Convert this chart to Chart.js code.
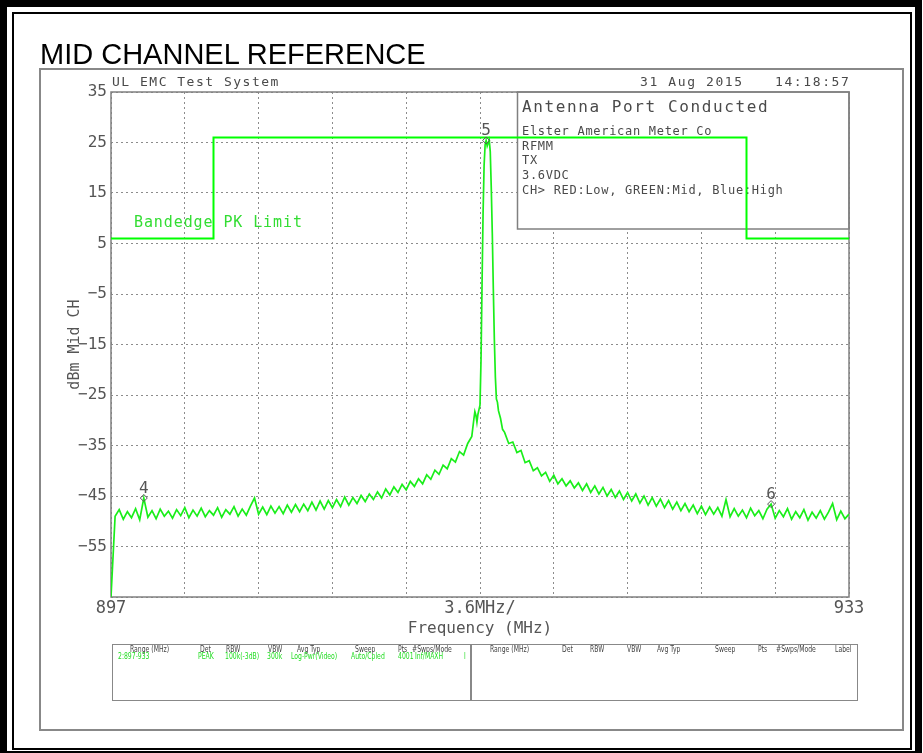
<!DOCTYPE html>
<html>
<head>
<meta charset="utf-8">
<title>MID CHANNEL REFERENCE</title>
<script src="https://cdn.jsdelivr.net/npm/chart.js@4.4.1/dist/chart.umd.min.js"></script>
<style>
  html, body { margin: 0; padding: 0; background: #fff; }
  body { width: 923px; height: 753px; position: relative; overflow: hidden; }
  #chart { position: absolute; left: 0; top: 0; }
  .abs { position: absolute; white-space: pre; line-height: 1; }
  .box { position: absolute; box-sizing: border-box; }
  .mono { font-family: "DejaVu Sans Mono", monospace; color: #4a4a4a; }
  .tbl { font-family: "DejaVu Sans Condensed", "Liberation Sans Narrow", "DejaVu Sans", sans-serif;
         font-size: 8px; color: #444; transform: scaleX(0.85); transform-origin: 0 0; }
  .tbl.g { color: #22dd22; }
</style>
</head>
<body>
<canvas id="chart" width="923" height="753"></canvas>

<!-- page frame -->
<div class="box" style="left:0;top:0;width:922px;height:758px;border:7px solid #000;"></div>
<div class="box" style="left:12px;top:12px;width:900px;height:738px;border:2px solid #000;"></div>
<div class="box" style="left:39px;top:68px;width:865px;height:663px;border:2px solid #888;"></div>

<div class="abs" style="left:40px;top:38px;font:29px 'Liberation Sans', Arial, sans-serif;color:#000;">MID CHANNEL REFERENCE</div>
<div class="abs mono" style="left:112px;top:75px;font-size:13px;letter-spacing:1.5px;">UL EMC Test System</div>
<div class="abs mono" style="left:640px;top:75px;font-size:13px;letter-spacing:1.6px;">31 Aug 2015</div>
<div class="abs mono" style="left:775px;top:75px;font-size:13px;letter-spacing:1.6px;">14:18:57</div>

<!-- settings table -->
<div class="box" style="left:112px;top:644px;width:746px;height:57px;border:1.5px solid #888;"></div>
<div class="box" style="left:470px;top:644px;width:1.5px;height:57px;background:#888;"></div>
<div id="tbl"></div>

<script>
// trace: frequency (MHz) and level (dBm)
const freqMHz = [
  897.0, 897.2, 897.4, 897.6, 897.8, 898.0, 898.2, 898.4, 898.6, 898.8,
  899.0, 899.2, 899.4, 899.6, 899.8, 900.0, 900.2, 900.4, 900.6, 900.8,
  901.0, 901.2, 901.4, 901.6, 901.8, 902.0, 902.2, 902.4, 902.6, 902.8,
  903.0, 903.2, 903.4, 903.6, 903.8, 904.0, 904.2, 904.4, 904.6, 904.8,
  905.0, 905.2, 905.4, 905.6, 905.8, 906.0, 906.2, 906.4, 906.6, 906.8,
  907.0, 907.2, 907.4, 907.6, 907.8, 908.0, 908.2, 908.4, 908.6, 908.8,
  909.0, 909.2, 909.4, 909.6, 909.8, 910.0, 910.2, 910.4, 910.6, 910.8,
  911.0, 911.2, 911.4, 911.6, 911.8, 912.0, 912.2, 912.4, 912.6, 912.8,
  913.0, 913.2, 913.4, 913.6, 913.8, 914.0, 914.2, 914.4, 914.6,
  914.7, 914.75, 914.8, 914.85, 914.9, 914.95, 915.0, 915.05, 915.1, 915.15,
  915.2, 915.25, 915.3, 915.35, 915.4, 915.45, 915.5, 915.55, 915.6, 915.65,
  915.7, 915.75, 915.8, 915.85, 915.9, 916.0, 916.1,
  916.2, 916.4, 916.6, 916.8,
  917.0, 917.2, 917.4, 917.6, 917.8, 918.0, 918.2, 918.4, 918.6, 918.8,
  919.0, 919.2, 919.4, 919.6, 919.8, 920.0, 920.2, 920.4, 920.6, 920.8,
  921.0, 921.2, 921.4, 921.6, 921.8, 922.0, 922.2, 922.4, 922.6, 922.8,
  923.0, 923.2, 923.4, 923.6, 923.8, 924.0, 924.2, 924.4, 924.6, 924.8,
  925.0, 925.2, 925.4, 925.6, 925.8, 926.0, 926.2, 926.4, 926.6, 926.8,
  927.0, 927.2, 927.4, 927.6, 927.8, 928.0, 928.2, 928.4, 928.6, 928.8,
  929.0, 929.2, 929.4, 929.6, 929.8, 930.0, 930.2, 930.4, 930.6, 930.8,
  931.0, 931.2, 931.4, 931.6, 931.8, 932.0, 932.2, 932.4, 932.6, 932.8,
  933.0
];
const levelDbm = [
  -65.0, -49.0, -47.7, -49.6, -48.1, -49.3, -47.5, -49.7, -45.4, -49.2,
  -47.9, -49.5, -47.6, -49.0, -48.0, -49.4, -47.7, -48.9, -47.3, -49.3,
  -47.8, -49.0, -47.4, -49.1, -47.9, -48.8, -47.3, -49.2, -47.7, -48.6,
  -47.1, -49.0, -47.6, -48.8, -47.0, -45.4, -48.6, -47.2, -48.7, -47.0,
  -48.4, -47.1, -48.5, -46.8, -48.2, -46.7, -48.1, -46.6, -47.9, -46.2,
  -47.8, -46.0, -47.6, -45.9, -47.3, -45.7, -47.1, -45.2, -46.8, -45.3,
  -46.5, -44.9, -46.1, -44.6, -45.7, -44.2, -45.4, -43.6, -44.8, -43.2,
  -44.3, -42.7, -43.8, -42.1, -43.1, -41.6, -42.6, -40.8, -41.7, -39.9,
  -40.7, -38.9, -39.6, -37.6, -38.3, -36.2, -36.9, -34.6, -33.2,
  -29.8, -28.3, -29.0, -30.4, -28.8, -27.9, -27.0, -18.0, -3.0, 11.0,
  20.5, 24.6, 25.4, 24.3, 24.9, 25.5, 23.2, 16.0, 7.0, -4.0,
  -14.0, -21.5, -25.8, -26.4, -28.1, -29.6, -31.8,
  -32.4, -34.6, -34.3, -36.4,
  -36.0, -38.4, -38.0, -40.0, -39.4, -41.0, -40.3, -42.1, -40.9, -42.6,
  -41.6, -43.0, -42.0, -43.4, -42.4, -43.9, -42.6, -44.3, -43.0, -44.6,
  -43.3, -45.0, -43.7, -45.3, -44.0, -45.7, -44.3, -46.0, -44.6, -46.4,
  -45.0, -46.8, -45.3, -47.0, -45.6, -47.3, -45.9, -47.6, -46.2, -47.9,
  -46.5, -48.1, -46.8, -48.5, -47.0, -48.7, -47.2, -48.6, -47.3, -49.0,
  -45.7, -49.1, -47.5, -49.0, -47.8, -49.3, -47.4, -48.9, -47.9, -49.5,
  -47.6, -46.6, -49.4, -47.9, -49.1, -47.5, -49.6, -48.1, -49.3, -47.7,
  -49.8, -48.2, -49.4, -47.9, -49.6, -48.2, -46.5, -49.7, -48.0, -49.5,
  -48.6
];

// bandedge peak limit
const limitFreqs = [897, 902, 902, 928, 928, 933];
const limitLevels = [6, 6, 26, 26, 6, 6];

// markers
const markerLabels = ["4", "5", "6"];
const markerFreqs = [898.6, 915.3, 929.2];
const markerLevels = [-45.4, 25.4, -46.6];

// axes
const xTickValues = [897, 900.6, 904.2, 907.8, 911.4, 915, 918.6, 922.2, 925.8, 929.4, 933];
const xTickLabels = ["897", "", "", "", "", "3.6MHz/", "", "", "", "", "933"];
const yTickValues = [-65, -55, -45, -35, -25, -15, -5, 5, 15, 25, 35];
const yTickLabels = ["", "−55", "−45", "−35", "−25", "−15", "−5", "5", "15", "25", "35"];

const infoTitle = "Antenna Port Conducted";
const infoLines = ["Elster American Meter Co", "RFMM", "TX", "3.6VDC", "CH> RED:Low, GREEN:Mid, Blue:High"];

// table text
const tblHead = [["Range (MHz)",130],["Det",200],["RBW",226],["VBW",268],["Avg Typ",297],["Sweep",355],["Pts",398],["#Swps/Mode",412],
                 ["Range (MHz)",490],["Det",562],["RBW",590],["VBW",627],["Avg Typ",657],["Sweep",715],["Pts",758],["#Swps/Mode",776],["Label",835]];
const tblRow = [["2:897-933",118],["PEAK",198],["100k(-3dB)",225],["300k",267],["Log-Pwr(Video)",291],["Auto/Cpled",351],["4001",398],["Inf/MAXH",415],["l",464]];

let html = "";
tblHead.forEach(t => html += `<div class="abs tbl" style="left:${t[1]}px;top:646px">${t[0]}</div>`);
tblRow.forEach(t => html += `<div class="abs tbl g" style="left:${t[1]}px;top:652.5px">${t[0]}</div>`);
document.getElementById("tbl").innerHTML = html;

const mono = "'DejaVu Sans Mono', monospace";
const green = "#1aee1a";

const overlay = {
    id: "overlay",
    beforeDatasetsDraw(chart) {
        let {ctx, chartArea: a} = chart;
        ctx.save();
        // info box covers the grid
        let bx = 517.5, by = a.top, bw = a.right - bx, bh = 229 - a.top;
        ctx.fillStyle = "#fff";
        ctx.fillRect(bx, by, bw, bh);
        ctx.strokeStyle = "#808080";
        ctx.lineWidth = 1.5;
        ctx.strokeRect(bx, by, bw, bh);
        ctx.fillStyle = "#4a4a4a";
        ctx.textBaseline = "alphabetic";
        ctx.font = "16px " + mono;
        ctx.letterSpacing = "1.6px";
        ctx.fillText(infoTitle, 522, 112);
        ctx.font = "12px " + mono;
        ctx.letterSpacing = "0.7px";
        infoLines.forEach((t, i) => ctx.fillText(t, 522, 135 + i * 14.7));
        // plot frame
        ctx.strokeStyle = "#808080";
        ctx.strokeRect(a.left, a.top, a.right - a.left, a.bottom - a.top);
        // limit label
        ctx.fillStyle = "#33dd33";
        ctx.font = "15px " + mono;
        ctx.letterSpacing = "0.9px";
        ctx.fillText("Bandedge PK Limit", 134, 227);
        ctx.restore();
    },
    afterDatasetsDraw(chart) {
        let {ctx, scales} = chart;
        ctx.save();
        ctx.strokeStyle = "#555";
        ctx.fillStyle = "#555";
        ctx.lineWidth = 1;
        ctx.font = "16px " + mono;
        ctx.textAlign = "center";
        ctx.textBaseline = "alphabetic";
        markerLabels.forEach((m, i) => {
            let px = scales.x.getPixelForValue(markerFreqs[i]);
            let py = scales.y.getPixelForValue(markerLevels[i]);
            ctx.beginPath();
            ctx.moveTo(px, py - 3.5);
            ctx.lineTo(px + 3.5, py);
            ctx.lineTo(px, py + 3.5);
            ctx.lineTo(px - 3.5, py);
            ctx.closePath();
            ctx.stroke();
            ctx.fillText(m, px, py - 5);
        });
        ctx.restore();
    }
};

new Chart(document.getElementById("chart"), {
    type: "line",
    data: {
        datasets: [{
            label: "Mid CH",
            data: freqMHz.map((f, i) => ({x: f, y: levelDbm[i]})),
            borderColor: green,
            borderWidth: 1.7,
            pointRadius: 0,
            tension: 0
        }, {
            label: "Bandedge PK Limit",
            data: limitFreqs.map((f, i) => ({x: f, y: limitLevels[i]})),
            borderColor: "#00ff00",
            borderWidth: 2,
            pointRadius: 0,
            tension: 0
        }]
    },
    options: {
        responsive: false,
        animation: false,
        devicePixelRatio: 1,
        layout: {padding: {left: 0, top: 92, right: 74, bottom: 0}},
        plugins: {
            legend: {display: false},
            tooltip: {enabled: false}
        },
        scales: {
            x: {
                type: "linear",
                min: 897,
                max: 933,
                afterBuildTicks: s => { s.ticks = xTickValues.map(v => ({value: v})); },
                afterFit: s => { s.height = 156; },
                ticks: {
                    autoSkip: false,
                    maxRotation: 0,
                    padding: 1,
                    color: "#555",
                    font: {family: mono, size: 17},
                    callback: (v, i) => xTickLabels[i]
                },
                grid: {color: "#8c8c8c", lineWidth: 1, drawTicks: false},
                border: {display: false, dash: [2, 3]},
                title: {
                    display: true,
                    text: "Frequency (MHz)",
                    color: "#555",
                    font: {family: mono, size: 16},
                    padding: {top: 0, bottom: 115}
                }
            },
            y: {
                type: "linear",
                min: -65,
                max: 35,
                afterBuildTicks: s => { s.ticks = yTickValues.map(v => ({value: v})); },
                afterFit: s => { s.width = 111; },
                ticks: {
                    autoSkip: false,
                    padding: 4,
                    color: "#555",
                    font: {family: mono, size: 16},
                    callback: (v, i) => yTickLabels[i]
                },
                grid: {color: "#8c8c8c", lineWidth: 1, drawTicks: false},
                border: {display: false, dash: [2, 3]},
                title: {
                    display: true,
                    text: "dBm Mid CH",
                    color: "#555",
                    font: {family: mono, size: 15},
                    padding: {top: 66, bottom: 0}
                }
            }
        }
    },
    plugins: [overlay]
});
</script>
</body>
</html>
